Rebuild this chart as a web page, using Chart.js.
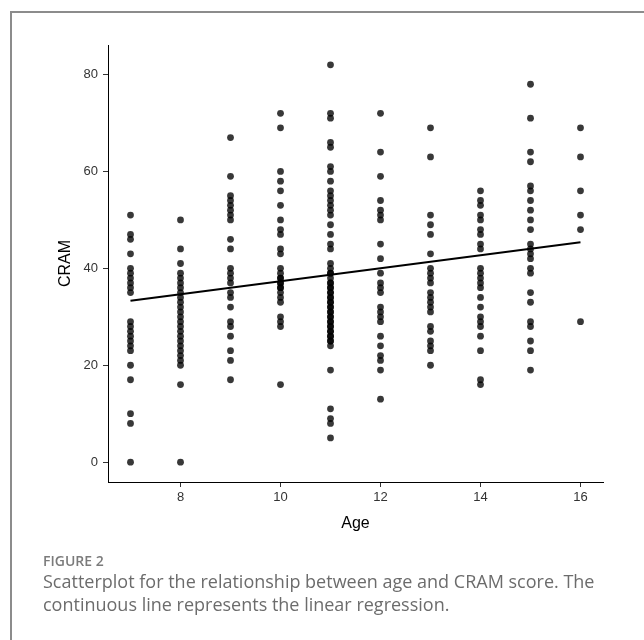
<!DOCTYPE html>
<html>
<head>
<meta charset="utf-8">
<script src="https://cdn.jsdelivr.net/npm/chart.js@4.4.1/dist/chart.umd.min.js"></script>
<style>
  body { margin: 0; background: #fff; }
  #wrap { position: relative; width: 644px; height: 640px; overflow: hidden; }
  #frame {
    position: absolute; left: 10px; top: 11px; width: 700px; height: 700px;
    border-left: 2px solid #8c8c8c; border-top: 2px solid #8c8c8c;
  }
  #chart { position: absolute; left: 0; top: 0; }
  .cap-title {
    position: absolute; left: 43px; top: 551px;
    font-family: "Open Sans", sans-serif; font-weight: 600; font-size: 14px;
    color: #7b7b7b;
  }
  .cap-text {
    position: absolute; left: 43px; top: 570px; width: 590px;
    font-family: "Open Sans", sans-serif; font-size: 18px; line-height: 23px;
    color: #6c6c6c;
  }
</style>
</head>
<body>
<div id="wrap">
  <div id="frame"></div>
  <canvas id="chart" width="644" height="640"></canvas>
  <div class="cap-title">FIGURE 2</div>
  <div class="cap-text">Scatterplot for the relationship between age and CRAM score. The continuous line represents the linear regression.</div>
</div>
<script>
// CRAM scores per age group
const ages = [7, 8, 9, 10, 11, 12, 13, 14, 15, 16];
const cram7 = [51, 47, 46, 43, 40, 39, 38, 37, 36, 35, 29, 28, 27, 26, 25, 24, 23, 20, 17, 10, 8, 0];
const cram8 = [50, 44, 41, 39, 38, 37, 36, 35, 34, 33, 32, 31, 30, 29, 28, 27, 26, 25, 24, 23, 22, 21, 20, 16, 0];
const cram9 = [67, 59, 55, 54, 53, 52, 51, 50, 46, 44, 40, 39, 38, 37, 35, 34, 32, 29, 28, 26, 23, 21, 17];
const cram10 = [72, 69, 60, 58, 56, 53, 50, 48, 47, 44, 43, 40, 39, 38, 38, 37, 37, 36, 36, 35, 34, 33, 30, 29, 28, 16];
const cram11 = [82, 72, 71, 66, 65, 61, 60, 58, 56, 55, 54, 53, 52, 51, 49, 47, 45, 44, 41, 40, 39, 39, 38, 37, 37,
  36, 36, 35, 35, 34, 34, 33, 33, 32, 32, 31, 31, 30, 30, 29, 29, 28, 28, 27, 27, 26, 26, 25, 25, 24, 19, 11, 9, 8, 5];
const cram12 = [72, 64, 59, 54, 52, 51, 50, 45, 42, 39, 37, 36, 35, 32, 31, 30, 29, 26, 24, 22, 21, 19, 13];
const cram13 = [69, 63, 51, 49, 47, 43, 40, 39, 38, 37, 35, 34, 33, 32, 31, 28, 27, 25, 24, 23, 20];
const cram14 = [56, 54, 53, 51, 50, 48, 47, 45, 44, 40, 39, 38, 37, 36, 34, 32, 30, 29, 28, 26, 23, 17, 16];
const cram15 = [78, 71, 64, 62, 57, 56, 54, 52, 50, 48, 45, 44, 43, 42, 40, 39, 35, 33, 29, 28, 25, 23, 19];
const cram16 = [69, 63, 56, 51, 48, 29];

// linear regression ends
const fitX = [7, 16];
const fitY = [33.3, 45.4];

const xTicks = [8, 10, 12, 14, 16];
const yTicks = [0, 20, 40, 60, 80];

const groups = [cram7, cram8, cram9, cram10, cram11, cram12, cram13, cram14, cram15, cram16];
const points = [];
ages.forEach((a, i) => {
  groups[i].forEach((v) => points.push({ x: a, y: v }));
});
const fitLine = fitX.map((x, i) => ({ x: x, y: fitY[i] }));

const axisFont = { family: "'Liberation Sans', Arial, sans-serif", size: 13 };
const titleFont = { family: "'Liberation Sans', Arial, sans-serif", size: 16 };

new Chart(document.getElementById("chart").getContext("2d"), {
  type: "scatter",
  data: {
    datasets: [
      {
        type: "line",
        data: fitLine,
        borderColor: "#000",
        borderWidth: 2,
        pointRadius: 0,
        fill: false,
      },
      {
        data: points,
        backgroundColor: "rgba(0,0,0,0.78)",
        borderWidth: 0,
        pointRadius: 3.4,
      },
    ],
  },
  options: {
    responsive: false,
    animation: false,
    layout: { padding: { left: 48, top: 45, right: 41, bottom: 100 } },
    plugins: { legend: { display: false }, tooltip: { enabled: false } },
    scales: {
      x: {
        type: "linear",
        min: 6.55,
        max: 16.45,
        afterBuildTicks: (s) => { s.ticks = xTicks.map((v) => ({ value: v })); },
        afterFit: (s) => { s.height = 58; },
        grid: { drawOnChartArea: false, drawTicks: true, tickLength: 5, tickColor: "#333" },
        border: { display: true, color: "#000", width: 1 },
        ticks: { color: "#333", font: axisFont, padding: 3 },
        title: { display: true, text: "Age", color: "#000", font: titleFont, padding: { top: 4, bottom: 7 } },
      },
      y: {
        type: "linear",
        min: -4.1,
        max: 86.1,
        afterBuildTicks: (s) => { s.ticks = yTicks.map((v) => ({ value: v })); },
        afterFit: (s) => { s.width = 60; },
        grid: { drawOnChartArea: false, drawTicks: true, tickLength: 5, tickColor: "#333" },
        border: { display: true, color: "#000", width: 1 },
        ticks: { color: "#333", font: axisFont, padding: 5 },
        title: { display: true, text: "CRAM", color: "#000", font: titleFont, padding: { top: 8, bottom: 0 } },
      },
    },
  },
});
</script>
</body>
</html>
